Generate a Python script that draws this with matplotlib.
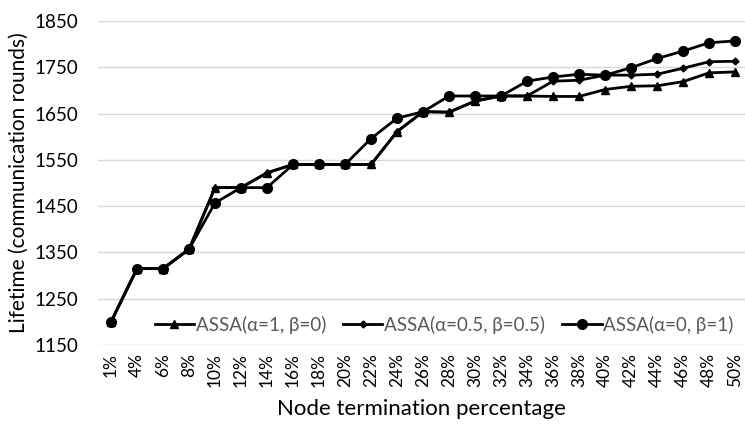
import matplotlib
matplotlib.use("Agg")
import matplotlib.pyplot as plt

plt.rcParams["font.family"] = ["Lato", "DejaVu Sans"]

# x categories
labels = ["1%", "4%", "6%", "8%", "10%", "12%", "14%", "16%", "18%", "20%",
          "22%", "24%", "26%", "28%", "30%", "32%", "34%", "36%", "38%", "40%",
          "42%", "44%", "46%", "48%", "50%"]

# lifetime values (communication rounds)
assa_a1_b0 = [1200, 1315, 1315, 1357, 1490, 1490, 1522, 1540, 1540, 1540,
              1540, 1611, 1654, 1653, 1677, 1688, 1688, 1687, 1687, 1702,
              1709, 1710, 1719, 1738, 1740]
assa_a05_b05 = [1200, 1315, 1315, 1357, 1490, 1490, 1522, 1540, 1540, 1540,
                1540, 1611, 1654, 1653, 1677, 1688, 1688, 1720, 1722, 1733,
                1733, 1735, 1748, 1762, 1763]
assa_a0_b1 = [1200, 1315, 1315, 1357, 1457, 1490, 1490, 1540, 1540, 1540,
              1596, 1640, 1654, 1688, 1688, 1688, 1720, 1729, 1735, 1733,
              1749, 1769, 1785, 1803, 1807]

x = list(range(len(labels)))

fig = plt.figure(figsize=(7.45, 4.28), dpi=100)
ax = fig.add_axes([98 / 745, 1 - 345 / 428, 1 - 98 / 745, (345 - 21) / 428])

ax.plot(x, assa_a1_b0, color="black", lw=2, marker="^", ms=6,
        label="ASSA(α=1, β=0)")
ax.plot(x, assa_a05_b05, color="black", lw=2, marker="D", ms=3.5,
        label="ASSA(α=0.5, β=0.5)")
ax.plot(x, assa_a0_b1, color="black", lw=2, marker="o", ms=7,
        label="ASSA(α=0, β=1)")

ax.set_ylim(1150, 1850)
ax.set_yticks(range(1150, 1851, 100))
ax.set_xlim(-0.5, 24.38)
ax.set_xticks(x)
ax.set_xticklabels(labels, rotation=90)
ax.tick_params(axis="both", length=0, labelsize=12.5, colors="black")
ax.tick_params(axis="y", pad=14, labelsize=13.5)
ax.tick_params(axis="x", pad=6)
ax.grid(axis="y", color="#d9d9d9", lw=1)
ax.set_axisbelow(True)
for s in ax.spines.values():
    s.set_visible(False)

ax.set_ylabel("Lifetime (communication rounds)", fontsize=15, labelpad=4)
ax.set_xlabel("Node termination percentage", fontsize=16, labelpad=8)

leg = ax.legend(loc="lower right", bbox_to_anchor=(1.0, 0.0), ncol=3,
                frameon=False, fontsize=13.5, handlelength=2.1,
                columnspacing=0.9, handletextpad=0.1, borderaxespad=0.2)
for t in leg.get_texts():
    t.set_color("#595959")

fig.savefig("out.png", dpi=100)
